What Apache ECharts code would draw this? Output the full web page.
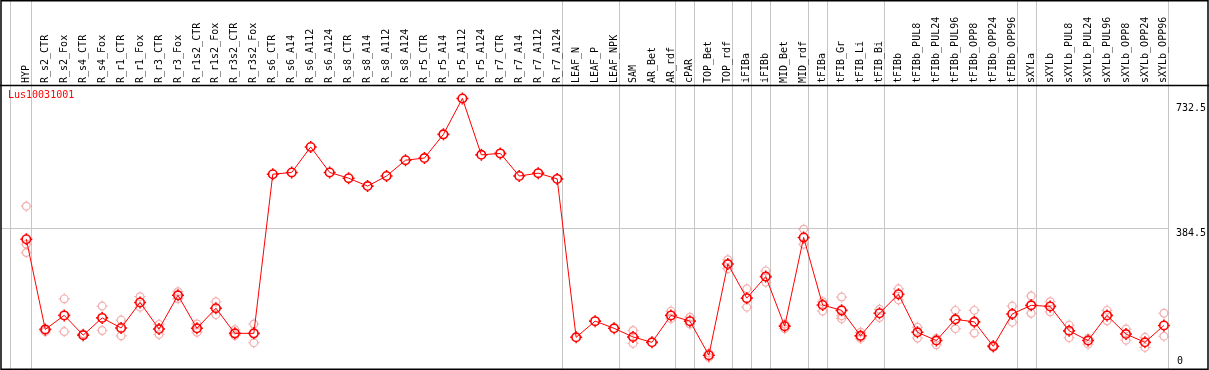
<!DOCTYPE html>
<html><head><meta charset="utf-8">
<script src="https://cdn.jsdelivr.net/npm/echarts@6/dist/echarts.min.js"></script>
<style>html,body{margin:0;padding:0;background:#fff}#c{width:1209px;height:370px}</style>
</head><body><div id="c"></div>
<script>
const chartTitle = 'Lus10031001';
const categories = ['HYP','R_s2_CTR','R_s2_Fox','R_s4_CTR','R_s4_Fox','R_r1_CTR','R_r1_Fox','R_r3_CTR','R_r3_Fox','R_r1s2_CTR','R_r1s2_Fox','R_r3s2_CTR','R_r3s2_Fox','R_s6_CTR','R_s6_A14','R_s6_A112','R_s6_A124','R_s8_CTR','R_s8_A14','R_s8_A112','R_s8_A124','R_r5_CTR','R_r5_A14','R_r5_A112','R_r5_A124','R_r7_CTR','R_r7_A14','R_r7_A112','R_r7_A124','LEAF_N','LEAF_P','LEAF_NPK','SAM','AR_Bet','AR_rdf','cPAR','TOP_Bet','TOP_rdf','iFIBa','iFIBb','MID_Bet','MID_rdf','tFIBa','tFIB_Gr','tFIB_Li','tFIB_Bi','tFIBb','tFIBb_PUL8','tFIBb_PUL24','tFIBb_PUL96','tFIBb_OPP8','tFIBb_OPP24','tFIBb_OPP96','sXYLa','sXYLb','sXYLb_PUL8','sXYLb_PUL24','sXYLb_PUL96','sXYLb_OPP8','sXYLb_OPP24','sXYLb_OPP96'];
const means = [354,103,142,87,135,107,178,104,198,106,162,92,92,535,540,611,540,524,502,530,574,580,646,746,589,593,530,538,522,81,126,106,82,67,142,126,31,285,190,250,112,359,171,156,85,148,201,95,72,131,124,56,146,170,167,99,72,142,90,67,114];
const replicates = [[446,340,317],[101,97],[188,97],[89,91],[168,100],[129,85],[194,165],[117,89],[208,188],[118,95],[180,144],[102,86],[118,66],[],[],[],[],[],[],[],[],[],[],[],[],[],[],[],[],[],[],[],[100,64],[],[154,133],[137,118],[37,25],[297,272],[216,165],[266,234],[118,105],[382,340],[180,154],[193,141,133],[95,78],[159,136],[216,185],[109,79],[78,60],[156,105],[156,93],[58,53],[168,123],[196,148],[180,152],[115,80],[78,62],[156,127],[104,73],[81,53],[148,84]];
const yTickLabels = [384.5, 732.5];
const yZeroLabel = [0];
const groupEnds = [0, 28, 31, 34, 35, 37, 38, 39, 41, 42, 45, 52, 53, 60];

const repData = [];
replicates.forEach((arr, i) => arr.forEach(v => repData.push([categories[i], v])));

const MONO = 'DejaVu Sans Mono';
const symPath = 'path://M6 0V1.6M6 10.4V12M0 6H1.6M10.4 6H12M10.2 6C10.2 8.32 8.32 10.2 6 10.2C3.68 10.2 1.8 8.32 1.8 6C1.8 3.68 3.68 1.8 6 1.8C8.32 1.8 10.2 3.68 10.2 6Z';

const chart = echarts.init(document.getElementById('c'), null, {renderer: 'canvas'});
const YMIN = -7.24, YMAX = 783.4;
chart.setOption({
  animation: false,
  backgroundColor: '#fff',
  title: {text: chartTitle, left: 8, top: 90, padding: 0,
    textStyle: {fontFamily: MONO, fontSize: 10, fontWeight: 'normal', color: '#ff0000'}},
  grid: {left: 26.3, right: 42.7, top: 85, bottom: 1, containLabel: false},
  xAxis: {type: 'category', data: categories, position: 'top', boundaryGap: false,
    axisLine: {show: false}, axisTick: {show: false}, splitLine: {show: false},
    axisLabel: {interval: 0, rotate: 90, margin: 2, fontFamily: MONO, fontSize: 10, color: '#000'}},
  yAxis: [
    {type: 'value', position: 'right', min: YMIN, max: YMAX,
      axisLine: {show: false}, axisTick: {show: false}, splitLine: {show: false},
      axisLabel: {customValues: yTickLabels, margin: 12, verticalAlign: 'top', fontFamily: MONO, fontSize: 10, color: '#000'}},
    {type: 'value', position: 'right', min: YMIN, max: YMAX,
      axisLine: {show: false}, axisTick: {show: false}, splitLine: {show: false},
      axisLabel: {customValues: yZeroLabel, margin: 13, verticalAlign: 'bottom', fontFamily: MONO, fontSize: 10, color: '#000'}}
  ],
  series: [
    {type: 'scatter', data: repData, symbol: symPath, symbolSize: 11, z: 3,
      itemStyle: {color: 'rgba(0,0,0,0)', borderColor: '#f09a9a', borderWidth: 1.2},
      emphasis: {disabled: true}, silent: true},
    {type: 'line', data: means, symbol: symPath, symbolSize: 12, showAllSymbol: true, z: 4,
      lineStyle: {color: '#ff0000', width: 1},
      itemStyle: {color: 'rgba(0,0,0,0)', borderColor: '#ff0000', borderWidth: 1.6},
      emphasis: {disabled: true}, silent: true}
  ]
});

const x0 = chart.convertToPixel({xAxisIndex: 0}, categories[0]);
const x1 = chart.convertToPixel({xAxisIndex: 0}, categories[1]);
const step = x1 - x0;
const gridY = chart.convertToPixel({yAxisIndex: 0}, 384.5);
const grey = '#c6c6c6';
const elements = [];
const sepXs = [x0 - 16].concat(groupEnds.map(i => chart.convertToPixel({xAxisIndex: 0}, categories[i]) + step * 0.235));
sepXs.forEach(x => {
  const xx = Math.round(x) + 0.5;
  elements.push({type: 'line', z: 0, silent: true, shape: {x1: xx, y1: 0, x2: xx, y2: 369}, style: {stroke: grey, lineWidth: 1}});
});
const lastSep = Math.round(sepXs[sepXs.length - 1]) + 0.5;
elements.push({type: 'line', z: 0, silent: true, shape: {x1: 1, y1: Math.round(gridY) + 0.5, x2: lastSep, y2: Math.round(gridY) + 0.5}, style: {stroke: grey, lineWidth: 1}});
elements.push({type: 'line', z: 10, silent: true, shape: {x1: 0, y1: 85.5, x2: 1209, y2: 85.5}, style: {stroke: '#000', lineWidth: 1.5}});
elements.push({type: 'rect', z: 10, silent: true, shape: {x: 1, y: 0.75, width: 1207, height: 368.5}, style: {fill: 'none', stroke: '#000', lineWidth: 1.5}});
chart.setOption({graphic: {elements: elements}});
</script>
</body></html>
